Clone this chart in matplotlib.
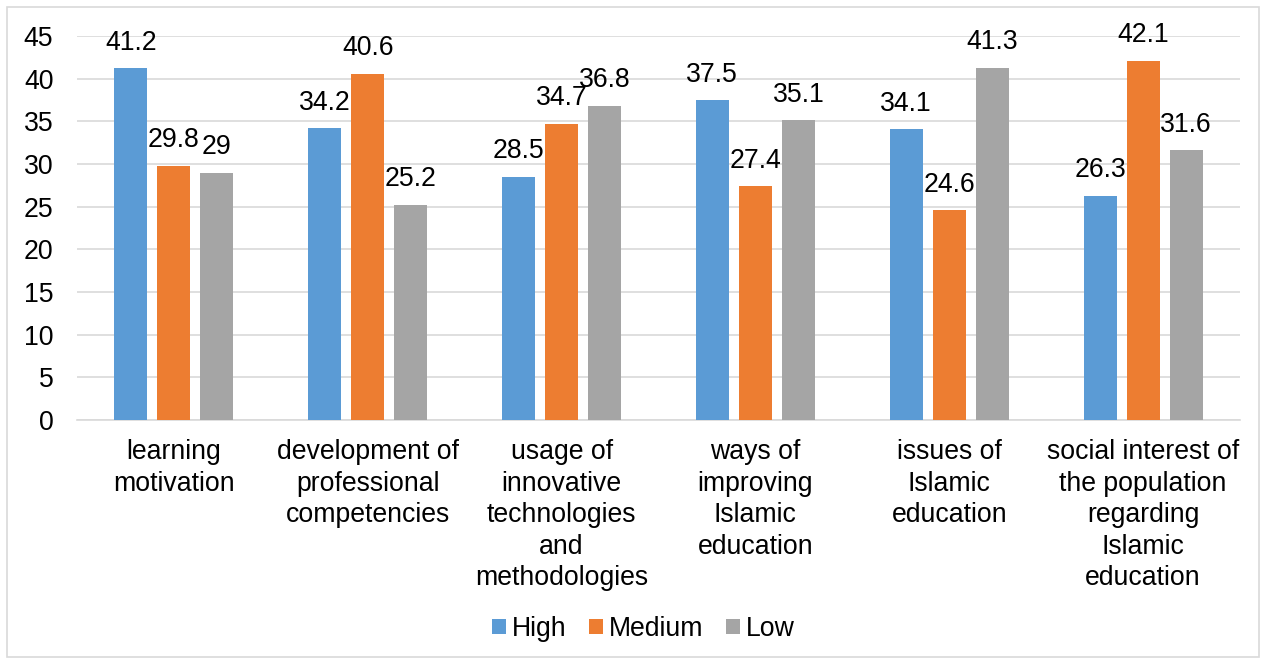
import matplotlib
matplotlib.use("Agg")
import matplotlib.pyplot as plt
import numpy as np
from matplotlib.patches import Rectangle

categories = ["learning\nmotivation",
              "development of\nprofessional\ncompetencies",
              "usage of\ninnovative\ntechnologies\nand\nmethodologies",
              "ways of\nimproving\nIslamic\neducation",
              "issues of\nIslamic\neducation",
              "social interest of\nthe population\nregarding\nIslamic\neducation"]
high = [41.2, 34.2, 28.5, 37.5, 34.1, 26.3]
medium = [29.8, 40.6, 34.7, 27.4, 24.6, 42.1]
low = [29, 25.2, 36.8, 35.1, 41.3, 31.6]
series_names = ["High", "Medium", "Low"]
yticks = [0, 5, 10, 15, 20, 25, 30, 35, 40, 45]

colors = ["#5B9BD5", "#ED7D31", "#A5A5A5"]
plt.rcParams['font.family'] = ['Liberation Sans', 'DejaVu Sans']
FS = 19.2

fig = plt.figure(figsize=(12.66, 6.64), dpi=100)
fig.patches.append(Rectangle((7/1266, 7/664), 1 - 14/1266, 1 - 14/664,
                             transform=fig.transFigure, fill=False,
                             edgecolor="#D9D9D9", linewidth=1.2))
ax = fig.add_axes([77/1266, (664-420)/664, (1240-77)/1266, (420-36)/664])

x = np.arange(len(categories))
w = 0.17
sp = 0.222
for i, (vals, name) in enumerate(zip([high, medium, low], series_names)):
    bars = ax.bar(x + (i - 1) * sp, vals, w, color=colors[i], label=name, zorder=3)
    for b, v in zip(bars, vals):
        ax.annotate(f"{v:g}", (b.get_x() + b.get_width() / 2, v),
                    xytext=(0, 9), textcoords="offset points",
                    ha="center", va="bottom", fontsize=FS, color="#000000")

ax.set_xlim(-0.5, len(categories) - 0.5)
ax.set_ylim(0, 45)
ax.set_yticks(yticks)
ax.set_yticklabels([str(t) for t in yticks], fontsize=FS)
ax.set_xticks(x)
ax.set_xticklabels(categories, fontsize=FS, linespacing=1.27)
ax.tick_params(axis="both", length=0)
ax.tick_params(axis="y", pad=17)
ax.tick_params(axis="x", pad=14)
ax.grid(axis="y", color="#D9D9D9", linewidth=1.2, zorder=0)
for s in ["top", "right", "left"]:
    ax.spines[s].set_visible(False)
ax.spines["bottom"].set_color("#D9D9D9")
ax.spines["bottom"].set_linewidth(1.2)

fig.legend(loc="center", bbox_to_anchor=(0.508, (664-629)/664), ncol=3,
           frameon=False, fontsize=FS, handlelength=0.52, handleheight=0.52,
           handletextpad=0.22, columnspacing=0.85)

fig.savefig("out.png", dpi=100)
